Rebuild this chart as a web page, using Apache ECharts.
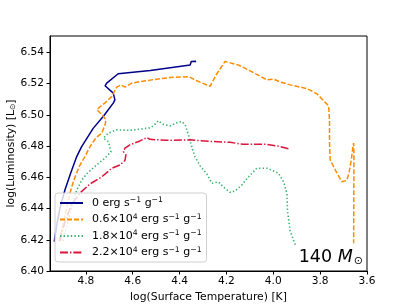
<!DOCTYPE html>
<html><head><meta charset="utf-8">
<script src="https://cdn.jsdelivr.net/npm/echarts@6/dist/echarts.min.js"></script>
<style>html,body{margin:0;padding:0;background:#fff}#c{width:407px;height:305px}</style>
</head><body><div id="c"></div>
<script>
// ---- data ----
const seriesNames = ["0 erg s\u207B\u00B9 g\u207B\u00B9", "0.6\u00D710\u2074 erg s\u207B\u00B9 g\u207B\u00B9", "1.8\u00D710\u2074 erg s\u207B\u00B9 g\u207B\u00B9", "2.2\u00D710\u2074 erg s\u207B\u00B9 g\u207B\u00B9"];
const legendPrefixes = ["0", "0.6\u00D710", "1.8\u00D710", "2.2\u00D710"];
const legendExponents = ["", "4", "4", "4"];
const xTicks = [3.6, 3.8, 4.0, 4.2, 4.4, 4.6, 4.8];
const yTicks = [6.40, 6.42, 6.44, 6.46, 6.48, 6.50, 6.52, 6.54];

const blueT = [4.935,4.924,4.911,4.889,4.865,4.839,4.818,4.768,4.726,4.683,4.676,4.683,4.718,4.711,4.662,4.525,4.355,4.350,4.342,4.330,4.335];
const blueL = [6.4188,6.4295,6.4400,6.4520,6.4626,6.4733,6.4797,6.4915,6.4989,6.5075,6.5096,6.5139,6.5186,6.5203,6.5263,6.5284,6.5320,6.5341,6.5349,6.5343,6.5340];

const orangeT = [4.915,4.898,4.882,4.868,4.851,4.829,4.804,4.782,4.757,4.732,4.718,4.714,4.727,4.753,4.740,4.718,4.690,4.668,4.651,4.633,4.604,4.569,4.519,4.441,4.362,4.326,4.270,4.241,4.206,4.150,4.099,4.027,3.999,3.971,3.928,3.856,3.814,3.764,3.760,3.760,3.757,3.743,3.728,3.707,3.686,3.676,3.667,3.660,3.657,3.656,3.656,3.657];
const orangeL = [6.4192,6.4295,6.4404,6.4498,6.4583,6.4667,6.4733,6.4797,6.4853,6.4883,6.4936,6.4968,6.4994,6.5032,6.5051,6.5077,6.5117,6.5178,6.5192,6.5178,6.5203,6.5213,6.5224,6.5239,6.5245,6.5218,6.5183,6.5263,6.5342,6.5320,6.5282,6.5224,6.5229,6.5211,6.5192,6.5168,6.5135,6.5058,6.4968,6.4820,6.4712,6.4669,6.4626,6.4572,6.4580,6.4635,6.4712,6.4797,6.4819,6.4756,6.4583,6.4178];

const greenT = [4.898,4.877,4.859,4.839,4.817,4.794,4.754,4.718,4.693,4.703,4.725,4.704,4.668,4.612,4.569,4.526,4.512,4.491,4.469,4.441,4.412,4.391,4.376,4.362,4.348,4.334,4.312,4.284,4.262,4.234,4.213,4.184,4.163,4.134,4.113,4.091,4.070,4.027,3.992,3.978,3.956,3.942,3.939,3.928,3.906];
const greenL = [6.4192,6.4314,6.4423,6.4519,6.4583,6.4626,6.4679,6.4724,6.4763,6.4827,6.4851,6.4883,6.4904,6.4901,6.4908,6.4917,6.4929,6.4962,6.4939,6.4929,6.4949,6.4958,6.4936,6.4872,6.4795,6.4731,6.4673,6.4622,6.4562,6.4570,6.4538,6.4503,6.4513,6.4551,6.4590,6.4626,6.4658,6.4658,6.4637,6.4626,6.4572,6.4498,6.4378,6.4256,6.4167];

const redT = [4.911,4.889,4.864,4.825,4.782,4.732,4.690,4.654,4.633,4.629,4.640,4.633,4.612,4.569,4.540,4.533,4.526,4.455,4.355,4.270,4.184,4.127,4.027,3.971,3.928];
const redL = [6.4192,6.4314,6.4417,6.4500,6.4558,6.4603,6.4657,6.4679,6.4708,6.4744,6.4765,6.4787,6.4808,6.4833,6.4854,6.4865,6.4843,6.4837,6.4840,6.4830,6.4824,6.4811,6.4811,6.4797,6.4780];

const zip = (a, b) => a.map((v, i) => [v, b[i]]);
const FONT = "DejaVu Sans";

const chart = echarts.init(document.getElementById('c'), null, {renderer: 'canvas'});
function mk(name, t, l, color, type, w) {
  return {
    name: name, type: 'line', data: zip(t, l), symbol: 'none', showSymbol: false,
    lineStyle: {color: color, width: w, type: type}, itemStyle: {color: color},
    animation: false, z: 2
  };
}
function legendFmt(name) {
  const i = seriesNames.indexOf(name);
  let s = '{a|' + legendPrefixes[i] + '}';
  if (legendExponents[i]) s += '{s|' + legendExponents[i] + '}';
  s += '{a| erg s}{s|\u22121}{a| g}{s|\u22121}';
  return s;
}
chart.setOption({
  animation: false,
  textStyle: {fontFamily: FONT},
  grid: {left: 50, right: 40, top: 36, bottom: 34, show: true, borderColor: '#000', borderWidth: 1, backgroundColor: 'transparent', containLabel: false, outerBoundsMode: 'none'},
  xAxis: {
    type: 'value', inverse: true, min: 3.6, max: 4.953,
    name: 'log(Surface Temperature) [K]', nameLocation: 'middle', nameGap: 21, nameMoveOverlap: false,
    nameTextStyle: {fontSize: 10.8, color: '#000', fontFamily: FONT},
    axisLine: {show: true, lineStyle: {color: '#000', width: 1}},
    axisTick: {show: true, length: 3.5, lineStyle: {color: '#000'}, customValues: xTicks},
    axisLabel: {customValues: xTicks, formatter: v => v.toFixed(1), fontSize: 10.6, color: '#000', margin: 5, fontFamily: FONT},
    splitLine: {show: false}
  },
  yAxis: {
    type: 'value', min: 6.40, max: 6.5505,
    name: '{a|log(Luminosity) [L}{s|\u2299}{a|]}', nameLocation: 'middle', nameGap: 33, nameRotate: 90, nameMoveOverlap: false,
    nameTextStyle: {fontSize: 10.8, color: '#000', fontFamily: FONT, rich: {a: {fontSize: 10.8, fontFamily: FONT, color: '#000'}, s: {fontSize: 7.5, fontFamily: FONT, color: '#000', padding: [4, 0, 0, 0]}}},
    axisLine: {show: true, lineStyle: {color: '#000', width: 1}},
    axisTick: {show: true, length: 3.5, lineStyle: {color: '#000'}, customValues: yTicks},
    axisLabel: {customValues: yTicks, formatter: v => v.toFixed(2), fontSize: 10.6, color: '#000', margin: 6, fontFamily: FONT},
    splitLine: {show: false}
  },
  legend: {
    orient: 'vertical', left: 55, top: 193, itemWidth: 23, itemHeight: 10, itemGap: 4.5,
    backgroundColor: 'rgba(255,255,255,0.8)', borderColor: '#d0d0d0', borderWidth: 1, borderRadius: 3,
    padding: [3.5, 5, 4, 4],
    itemStyle: {opacity: 0},
    formatter: legendFmt,
    textStyle: {
      fontSize: 11, color: '#000', fontFamily: FONT, padding: [0, 0, 0, 4],
      rich: {
        a: {fontSize: 11, fontFamily: FONT, color: '#000', lineHeight: 13},
        s: {fontSize: 7.7, fontFamily: FONT, color: '#000', lineHeight: 8, verticalAlign: 'top'}
      }
    },
    data: seriesNames
  },
  series: [
    mk(seriesNames[0], blueT, blueL, '#00008B', 'solid', 1.5),
    mk(seriesNames[1], orangeT, orangeL, '#FF8C00', [5, 2], 1.5),
    mk(seriesNames[2], greenT, greenL, '#3CB371', [1.4, 2.2], 1.6),
    mk(seriesNames[3], redT, redL, '#DC143C', [8, 2, 1.4, 2], 1.5)
  ],
  graphic: [{
    type: 'text', right: 44, top: 248, z: 10,
    style: {
      text: '{a|140 }{m|M}{s|\u2299}', fill: '#000',
      rich: {
        a: {fontSize: 17.5, fontFamily: FONT, fill: '#000'},
        m: {fontSize: 17.5, fontFamily: FONT, fontStyle: 'italic', fill: '#000'},
        s: {fontSize: 11, fontFamily: FONT, fill: '#000', padding: [8, 0, 0, 1]}
      }
    }
  }]
});
</script></body></html>
